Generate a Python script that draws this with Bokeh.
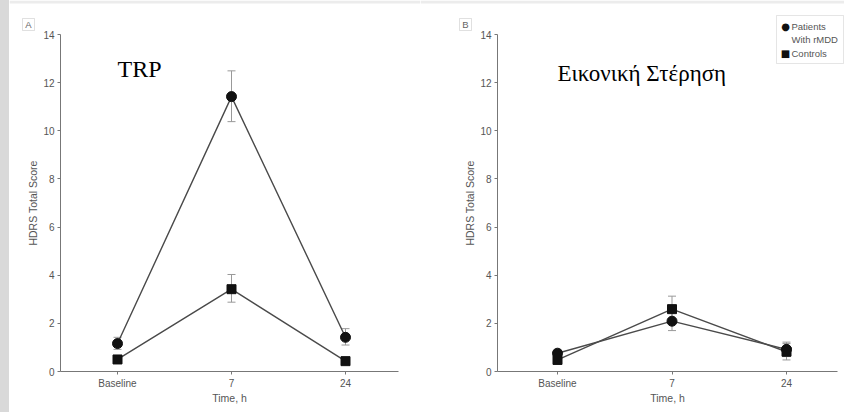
from bokeh.plotting import figure
from bokeh.models import Range1d, FixedTicker, Label, BoxAnnotation, Spacer, ColumnDataSource
from bokeh.layouts import row
from bokeh.embed import file_html
from bokeh.resources import INLINE

categories = ["Baseline", "7", "24"]
xpos = [0, 1, 2]

# Panel A (TRP)
a_pat = [1.16, 11.42, 1.42]
a_pat_lo = [0.92, 10.38, 1.10]
a_pat_hi = [1.42, 12.49, 1.78]
a_ctl = [0.50, 3.42, 0.43]
a_ctl_lo = [0.38, 2.88, 0.30]
a_ctl_hi = [0.62, 4.03, 0.56]

# Panel B (sham depletion)
b_pat = [0.76, 2.09, 0.92]
b_pat_lo = [0.62, 1.70, 0.62]
b_pat_hi = [0.90, 2.48, 1.22]
b_ctl = [0.48, 2.59, 0.82]
b_ctl_lo = [0.36, 2.10, 0.48]
b_ctl_hi = [0.60, 3.13, 1.16]

panel_letters = ["A", "B"]
panel_titles = ["TRP", "Εικονική Στέρηση"]
legend_labels = ["Patients", "With rMDD", "Controls"]

SANS = "Liberation Sans"
AX = "#777777"
TXT = "#555555"
H = 412
Y0_PX, Y14_PX = 371, 34  # pixel rows of y=0 and y=14


def make_panel(width, left_abs, x0_px, step_px, ax_left_px, ax_right_px,
               pat, plo, phi, ctl, clo, chi):
    # layout arithmetic: frame fills the whole figure, axes pinned with fixed_location
    xs = (left_abs - x0_px) / step_px
    xe = (left_abs + width - x0_px) / step_px
    ppu = (Y0_PX - Y14_PX) / 14.0
    ys = -(H - Y0_PX) / ppu
    ye = 14 + Y14_PX / ppu
    ax_l = (ax_left_px - x0_px) / step_px
    ax_r = (ax_right_px - x0_px) / step_px
    p = figure(width=width, height=H, output_backend="svg", toolbar_location=None, title=None,
               x_range=Range1d(xs, xe), y_range=Range1d(ys, ye),
               min_border=0)
    p.outline_line_color = None
    p.grid.visible = False
    p.background_fill_color = "white"
    p.border_fill_color = "white"
    for ax in (p.xaxis[0], p.yaxis[0]):
        ax.axis_line_color = AX
        ax.major_tick_line_color = AX
        ax.minor_tick_line_color = None
        ax.major_tick_in = 0
        ax.major_tick_out = 3
        ax.major_label_text_font = SANS
        ax.major_label_text_font_size = "10px"
        ax.major_label_text_color = TXT
        ax.axis_label_text_font = SANS
        ax.axis_label_text_font_size = "10.5px"
        ax.axis_label_text_font_style = "normal"
        ax.axis_label_text_color = TXT
    p.xaxis.fixed_location = 0
    p.xaxis.bounds = (ax_l, ax_r)
    p.xaxis.ticker = FixedTicker(ticks=xpos)
    p.xaxis.major_label_overrides = {x: c for x, c in zip(xpos, categories)}
    p.xaxis.axis_label = "Time, h"
    p.xaxis.major_label_standoff = 3
    p.xaxis.axis_label_standoff = 0
    p.yaxis.fixed_location = ax_l
    p.yaxis.bounds = (0, 14)
    p.yaxis.ticker = FixedTicker(ticks=[0, 2, 4, 6, 8, 10, 12, 14])
    p.yaxis.axis_label = "HDRS Total Score"
    p.yaxis.major_label_standoff = 3
    p.yaxis.axis_label_standoff = 1

    for vals, lo, hi in ((pat, plo, phi), (ctl, clo, chi)):
        src = ColumnDataSource(dict(x=xpos, y=vals, lo=lo, hi=hi))
        p.segment(x0="x", y0="lo", x1="x", y1="hi", source=src, line_color="#999999", line_width=1)
        p.scatter(x="x", y="lo", source=src, marker="dash", size=8, line_color="#999999", line_width=1)
        p.scatter(x="x", y="hi", source=src, marker="dash", size=8, line_color="#999999", line_width=1)
    p.line(xpos, pat, line_color="#4a4a4a", line_width=1.4)
    p.line(xpos, ctl, line_color="#4a4a4a", line_width=1.4)
    p.scatter(xpos, pat, marker="circle", size=10, fill_color="#111111", line_color="#111111")
    p.scatter(xpos, ctl, marker="square", size=9, fill_color="#111111", line_color="#111111")
    return p


def sbox(p, l, r, b, t, line="#999999", fill="white"):
    p.add_layout(BoxAnnotation(left=l, right=r, bottom=b, top=t,
                               left_units="screen", right_units="screen",
                               bottom_units="screen", top_units="screen",
                               fill_color=fill, fill_alpha=1, line_color=line, line_width=1))


def slabel(p, x, y, text, **kw):
    p.add_layout(Label(x=x, y=y, x_units="screen", y_units="screen", text=text, **kw))


pA = make_panel(411, 9, 117, 114.0, 60, 398, a_pat, a_pat_lo, a_pat_hi, a_ctl, a_ctl_lo, a_ctl_hi)
pB = make_panel(424, 420, 557, 114.5, 497, 837, b_pat, b_pat_lo, b_pat_hi, b_ctl, b_ctl_lo, b_ctl_hi)

# thin light-grey strip along the top edge
for p, w in ((pA, 411), (pB, 424)):
    sbox(p, 0, w, H - 3, H, line=None, fill="#ececec")

# panel letters
for p, letter, lx in ((pA, panel_letters[0], 13), (pB, panel_letters[1], 39)):
    sbox(p, lx, lx + 12, 382, 394)
    slabel(p, lx + 6, 388, letter, text_align="center", text_baseline="middle",
           text_font=SANS, text_font_size="9.5px", text_color="#666666")

slabel(pA, 108, 344, panel_titles[0], text_font="Liberation Serif", text_font_size="24px",
       text_color="#000000", text_baseline="alphabetic")
slabel(pB, 137, 339, panel_titles[1], text_font="Liberation Serif", text_font_size="23px",
       text_color="#000000", text_baseline="alphabetic")

# legend in panel B
sbox(pB, 356, 423, 349, 397, line="#aaaaaa")
slabel(pB, 365, 386, "●", text_align="center", text_baseline="middle", text_font="DejaVu Sans",
       text_font_size="10px", text_color="#111111")
slabel(pB, 365, 359, "■", text_align="center", text_baseline="middle", text_font="DejaVu Sans",
       text_font_size="10px", text_color="#111111")
for txt, yy in zip(legend_labels, (386, 373, 359)):
    slabel(pB, 371, yy, txt, text_baseline="middle", text_font=SANS, text_font_size="9.5px",
           text_color="#555555")

strip = Spacer(width=9, height=H, styles={"background-color": "#d9d9d9"})
layout = row(strip, pA, pB, spacing=0)

open("out.html", "w").write(file_html(layout, INLINE))
